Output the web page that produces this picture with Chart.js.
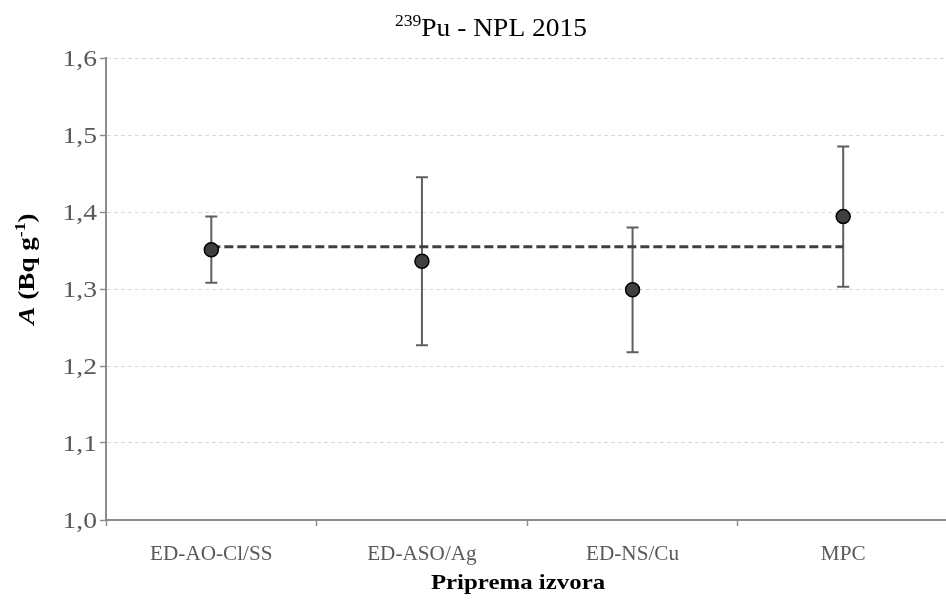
<!DOCTYPE html>
<html>
<head>
<meta charset="utf-8">
<script src="https://cdn.jsdelivr.net/npm/chart.js@4.4.0/dist/chart.umd.min.js"></script>
<style>
html, body { margin: 0; padding: 0; overflow: hidden; background: #fff; }
canvas { display: block; }
</style>
</head>
<body>
<canvas id="grafico" width="957" height="607"></canvas>
<script>
// podaci s grafa
const kategorije = ['ED-AO-Cl/SS', 'ED-ASO/Ag', 'ED-NS/Cu', 'MPC'];
const aktivnost = [1.351, 1.336, 1.299, 1.394];
const donjaGranica = [1.308, 1.227, 1.218, 1.303];
const gornjaGranica = [1.394, 1.445, 1.380, 1.485];
const srednjaVrijednost = [1.355, 1.355, 1.355, 1.355];
const yOznake = [1.0, 1.1, 1.2, 1.3, 1.4, 1.5, 1.6];

const SERIF = "'Liberation Serif', 'Times New Roman', serif";

// crta niz dijelova teksta (obican / superscript), sx = horizontalno razvlacenje
function crtajDijelove(ctx, dijelovi, x, y, align, sx) {
    sx = sx || 1;
    let ukupno = 0;
    dijelovi.forEach(d => { ctx.font = d.font; ukupno += ctx.measureText(d.t).width * sx; });
    let pos = align === 'center' ? x - ukupno / 2 : (align === 'right' ? x - ukupno : x);
    dijelovi.forEach(d => {
        ctx.font = d.font;
        ctx.save();
        ctx.translate(pos, y + (d.dy || 0));
        ctx.scale(sx, 1);
        ctx.fillText(d.t, 0, 0);
        ctx.restore();
        pos += ctx.measureText(d.t).width * sx;
    });
}

// error bars
const errorBarovi = {
    id: 'errorBarovi',
    beforeDatasetsDraw(chart) {
        const { ctx, scales: { x, y } } = chart;
        ctx.save();
        ctx.strokeStyle = '#5f5f5f';
        ctx.lineWidth = 2;
        kategorije.forEach((k, i) => {
            const px = x.getPixelForValue(i);
            const gore = y.getPixelForValue(gornjaGranica[i]);
            const dolje = y.getPixelForValue(donjaGranica[i]);
            ctx.beginPath();
            ctx.moveTo(px, gore); ctx.lineTo(px, dolje);
            ctx.moveTo(px - 6, gore); ctx.lineTo(px + 6, gore);
            ctx.moveTo(px - 6, dolje); ctx.lineTo(px + 6, dolje);
            ctx.stroke();
        });
        ctx.restore();
    }
};

// svi tekstovi (naslov, oznake osi, nazivi osi)
const tekstovi = {
    id: 'tekstovi',
    afterDraw(chart) {
        const { ctx, scales: { x, y } } = chart;
        ctx.save();
        ctx.textBaseline = 'alphabetic';

        // naslov
        ctx.fillStyle = '#000';
        crtajDijelove(ctx, [
            { t: '239', font: '16px ' + SERIF, dy: -10 },
            { t: 'Pu - NPL 2015', font: '25px ' + SERIF }
        ], 491, 36, 'center', 1.1);

        // oznake y osi
        ctx.fillStyle = '#595959';
        y.ticks.forEach(t => {
            const py = y.getPixelForValue(t.value);
            crtajDijelove(ctx, [{ t: t.value.toFixed(1).replace('.', ','), font: '23px ' + SERIF }], 97, py + 7.5, 'right', 1.2);
        });

        // oznake x osi
        kategorije.forEach((k, i) => {
            crtajDijelove(ctx, [{ t: k, font: '20px ' + SERIF }], x.getPixelForValue(i), 560, 'center', 1.06);
        });

        // naziv x osi
        ctx.fillStyle = '#000';
        crtajDijelove(ctx, [{ t: 'Priprema izvora', font: 'bold 22px ' + SERIF }], 518, 589, 'center', 1.13);

        // naziv y osi (rotiran)
        ctx.save();
        ctx.translate(34, 269);
        ctx.rotate(-Math.PI / 2);
        crtajDijelove(ctx, [
            { t: 'A', font: 'italic bold 23px ' + SERIF },
            { t: ' (Bq g', font: 'bold 23px ' + SERIF },
            { t: '-1', font: 'bold 15px ' + SERIF, dy: -9 },
            { t: ')', font: 'bold 23px ' + SERIF }
        ], 0, 0, 'center', 1.18);
        ctx.restore();

        ctx.restore();
    }
};

new Chart(document.getElementById('grafico'), {
    type: 'line',
    data: {
        labels: kategorije,
        datasets: [
            {
                label: 'A',
                data: aktivnost,
                showLine: false,
                pointRadius: 7,
                pointBackgroundColor: '#404040',
                pointBorderColor: '#000',
                pointBorderWidth: 1.5,
                order: 0
            },
            {
                label: 'srednja vrijednost',
                data: srednjaVrijednost,
                borderColor: '#404040',
                borderWidth: 3,
                borderDash: [9, 4],
                pointRadius: 0,
                fill: false,
                order: 1
            }
        ]
    },
    options: {
        responsive: false,
        animation: false,
        layout: { padding: { top: 58, left: 0, right: 1, bottom: 0 } },
        plugins: {
            legend: { display: false },
            tooltip: { enabled: false },
            title: { display: false }
        },
        scales: {
            x: {
                offset: true,
                grid: {
                    offset: true,
                    drawOnChartArea: false,
                    drawTicks: true,
                    tickLength: 6,
                    tickColor: '#8c8c8c',
                    tickWidth: 1.5
                },
                border: { color: '#8c8c8c', width: 2 },
                ticks: { display: false },
                afterFit(s) { s.height = 87; }
            },
            y: {
                min: 1.0,
                max: 1.6,
                afterBuildTicks(s) { s.ticks = yOznake.map(v => ({ value: v })); },
                grid: {
                    color: '#d9d9d9',
                    lineWidth: 1,
                    tickColor: '#8c8c8c',
                    tickWidth: 1.5,
                    tickLength: 6,
                    tickBorderDash: []
                },
                border: { color: '#8c8c8c', width: 2, dash: [4, 3] },
                ticks: { display: false },
                afterFit(s) { s.width = 106; }
            }
        }
    },
    plugins: [errorBarovi, tekstovi]
});
</script>
</body>
</html>
